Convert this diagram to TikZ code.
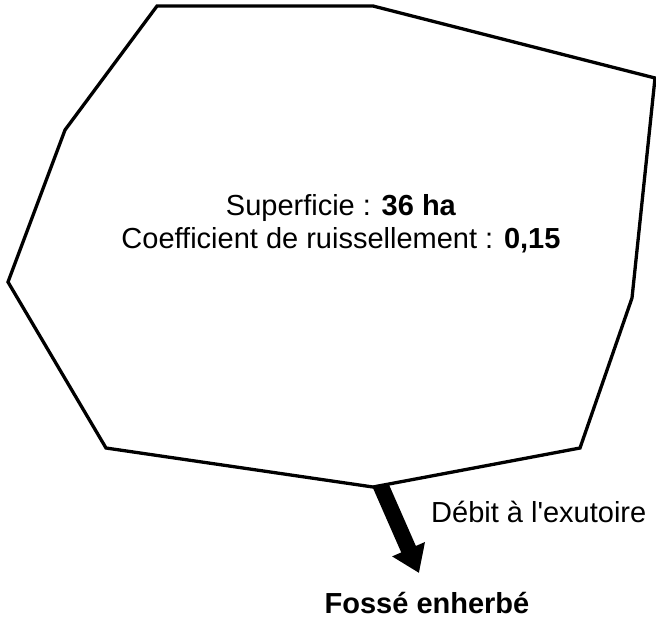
\documentclass[tikz,border=0pt]{standalone}
\usepackage{fontspec}
\setmainfont{Liberation Sans}
\usetikzlibrary{arrows.meta}
\begin{document}
\begin{tikzpicture}[x=1pt,y=-1pt,
  catchment/.style={draw=black,line width=3.3pt,line join=miter},
  flow/.style={line width=16pt,-{Triangle[width=34pt,length=26pt]}},
  label/.style={inner sep=0pt,font=\fontsize{29}{33}\selectfont}]
\useasboundingbox (0,0) rectangle (656,619);

% watershed outline
\coordinate (p1) at (157,6);
\coordinate (p2) at (373,6);
\coordinate (p3) at (655,78);
\coordinate (p4) at (632,298);
\coordinate (p5) at (580,448);
\coordinate (outlet) at (373,487);
\coordinate (p7) at (106,448);
\coordinate (p8) at (8,282);
\coordinate (p9) at (65,130);

% discharge arrow, trimmed to the outside of the outline
\coordinate (shaft) at (376,475);
\coordinate (tip) at (419,573);
\begin{scope}
  \clip (p7) -- (outlet) -- (p5) -- (656,619) -- (0,619) -- cycle;
  \draw[flow] (shaft) -- (tip);
\end{scope}

\draw[catchment] (p1) -- (p2) -- (p3) -- (p4) -- (p5) -- (outlet) -- (p7) -- (p8) -- (p9) -- cycle;

% labels
\node[label,anchor=base] (area) at (341,215) {Superficie : \textbf{36 ha}};
\node[label,anchor=base] (coef) at (341,248) {Coefficient de ruissellement : \textbf{0,15}};
\node[label,anchor=base west] (debit) at (431,522) {Débit à l\textquotesingle exutoire};
\node[label,anchor=base] (fosse) at (427,613) {\textbf{Fossé enherbé}};
\end{tikzpicture}
\end{document}
